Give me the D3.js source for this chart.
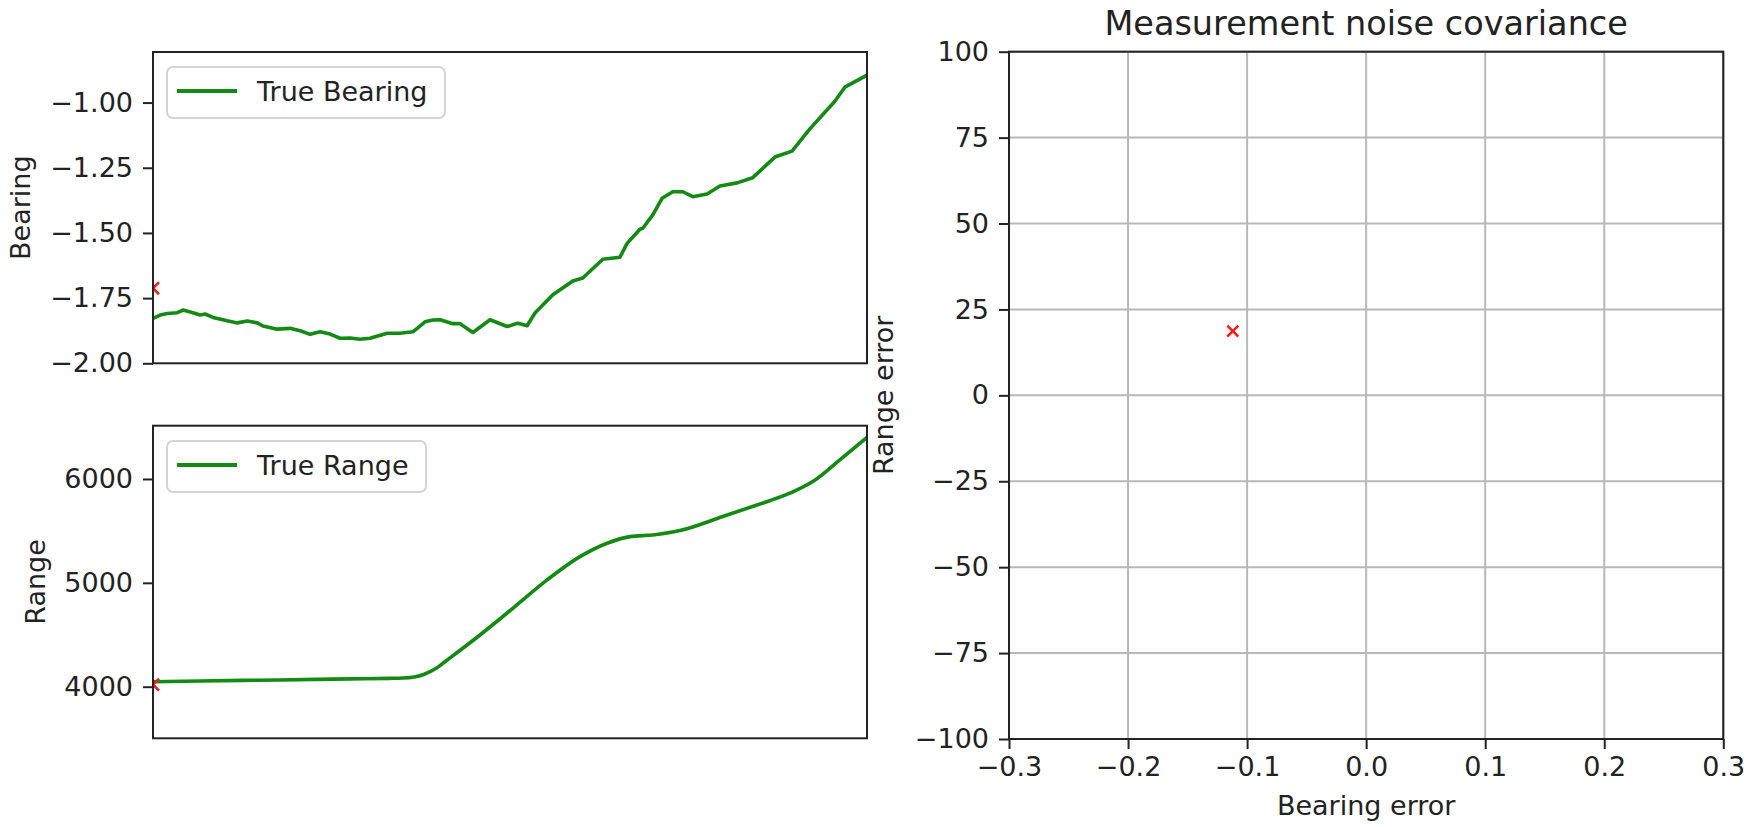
<!DOCTYPE html>
<html>
<head>
<meta charset="utf-8">
<script src="https://cdn.jsdelivr.net/npm/d3@7"></script>
<style>
  html, body { margin: 0; padding: 0; background: #fff; }
  svg { display: block; }
  text { font-family: "DejaVu Sans", sans-serif; fill: #222; }
</style>
</head>
<body>
<svg id="chart" width="1759" height="827"></svg>
<script>
// ---- data ----
const bearingTime = [0, 1.0, 2.0, 3.4, 4.2, 5.6, 6.6, 7.3, 8.4, 10.4, 11.8, 13.2, 14.6, 15.4, 17.4, 19.2, 20.6, 22.0, 23.4, 24.8, 26.2, 27.6, 29.0, 30.4, 32.8, 34.6, 36.4, 37.0, 38.1, 39.2, 40.2, 42.0, 43.0, 44.8, 47.2, 49.6, 51.1, 52.4, 53.5, 56.0, 58.8, 60.2, 63.0, 65.4, 66.4, 68.2, 68.6, 70.0, 71.3, 72.8, 74.2, 75.6, 77.6, 79.4, 81.8, 84.0, 87.1, 89.5, 92.0, 95.5, 96.9, 100];
const bearingValues = [-1.828, -1.815, -1.809, -1.806, -1.796, -1.806, -1.815, -1.811, -1.824, -1.837, -1.845, -1.838, -1.845, -1.857, -1.869, -1.866, -1.875, -1.889, -1.879, -1.888, -1.904, -1.903, -1.908, -1.904, -1.885, -1.885, -1.879, -1.866, -1.841, -1.834, -1.833, -1.848, -1.848, -1.882, -1.833, -1.859, -1.846, -1.856, -1.807, -1.737, -1.684, -1.673, -1.601, -1.593, -1.540, -1.486, -1.482, -1.431, -1.367, -1.342, -1.342, -1.361, -1.351, -1.320, -1.308, -1.288, -1.209, -1.186, -1.101, -0.995, -0.941, -0.895];
const rangeTime = [0, 6.6, 17.8, 27.6, 33.0, 35.0, 36.6, 38.0, 39.6, 41.2, 45.8, 50.4, 55.2, 59.8, 63.6, 66.8, 70.0, 73.8, 79.8, 84.6, 89.2, 92.4, 96.2, 100];
const rangeValues = [4048, 4055, 4065, 4075, 4080, 4083, 4093, 4120, 4175, 4257, 4498, 4755, 5028, 5252, 5381, 5445, 5461, 5503, 5638, 5750, 5863, 5975, 6184, 6400];
const measuredBearing = [{t: 0, v: -1.712}];
const measuredRange = [{t: 0, v: 4020}];
const noiseBearingError = [-0.112];
const noiseRangeError = [18.7];
const bearingTicks = [-2.00, -1.75, -1.50, -1.25, -1.00];
const rangeTicks = [4000, 5000, 6000];
const errXTicks = [-0.3, -0.2, -0.1, 0.0, 0.1, 0.2, 0.3];
const errYTicks = [-100, -75, -50, -25, 0, 25, 50, 75, 100];

// ---- drawing ----
const svg = d3.select("#chart");
const FS = 27;
const GREEN = "#138a13";
const minus = s => s.replace(/-/g, "\u2212");

function styleAxis(g) {
  g.select(".domain").remove();
  g.selectAll(".tick line").attr("stroke", "#222").attr("stroke-width", 2);
  g.selectAll(".tick text").style("font-size", FS + "px").attr("fill", "#222");
}

function frame(x0, y0, x1, y1) {
  svg.append("rect").attr("x", x0).attr("y", y0).attr("width", x1 - x0).attr("height", y1 - y0)
    .attr("fill", "none").attr("stroke", "#222").attr("stroke-width", 2);
}

function xMarker(g, cx, cy, s) {
  g.append("path")
    .attr("d", `M${cx - s},${cy - s}L${cx + s},${cy + s}M${cx - s},${cy + s}L${cx + s},${cy - s}`)
    .attr("stroke", "#ff1a1a").attr("stroke-width", 2.6).attr("fill", "none");
}

function legend(x, y, w, h, label) {
  svg.append("rect").attr("x", x).attr("y", y).attr("width", w).attr("height", h)
    .attr("rx", 6).attr("fill", "#fff").attr("fill-opacity", 0.8)
    .attr("stroke", "#d4d4d4").attr("stroke-width", 2);
  svg.append("line").attr("x1", x + 10).attr("x2", x + 70).attr("y1", y + 24).attr("y2", y + 24)
    .attr("stroke", GREEN).attr("stroke-width", 4);
  svg.append("text").attr("x", x + 90).attr("y", y + 34).style("font-size", FS + "px").text(label);
}

function linePanel(opts) {
  const { x0, x1, y0, y1, times, values, domain, ticks, fmt, label, labelX, meas, curve, clipId, leg } = opts;
  const xs = d3.scaleLinear().domain([0, 100]).range([x0, x1]);
  const ys = d3.scaleLinear().domain(domain).range([y1, y0]);
  svg.append("clipPath").attr("id", clipId).append("rect")
    .attr("x", x0).attr("y", y0).attr("width", x1 - x0).attr("height", y1 - y0);
  const g = svg.append("g").attr("clip-path", `url(#${clipId})`);
  const pts = times.map((t, i) => [t, values[i]]);
  g.append("path").datum(pts)
    .attr("d", d3.line().x(d => xs(d[0])).y(d => ys(d[1])).curve(curve))
    .attr("fill", "none").attr("stroke", GREEN).attr("stroke-width", 3.6)
    .attr("stroke-linejoin", "round").attr("stroke-linecap", "round");
  meas.forEach(m => xMarker(g, xs(m.t), ys(m.v), 6));
  const ax = svg.append("g").attr("transform", `translate(${x0},0)`)
    .call(d3.axisLeft(ys).tickValues(ticks).tickSize(10).tickPadding(10).tickFormat(d => minus(fmt(d))));
  styleAxis(ax);
  frame(x0, y0, x1, y1);
  svg.append("text").attr("transform", `translate(${labelX},${(y0 + y1) / 2}) rotate(-90)`)
    .attr("text-anchor", "middle").style("font-size", FS + "px").text(label);
  legend(leg.x, leg.y, leg.w, leg.h, leg.label);
}

linePanel({
  x0: 153, x1: 867, y0: 52, y1: 363.3,
  times: bearingTime, values: bearingValues,
  domain: [-2.0, -0.806], ticks: bearingTicks, fmt: d3.format(".2f"),
  label: "Bearing", labelX: 30, meas: measuredBearing, curve: d3.curveLinear, clipId: "c1",
  leg: { x: 167, y: 67, w: 278, h: 51, label: "True Bearing" }
});

linePanel({
  x0: 153, x1: 867, y0: 425.7, y1: 738.3,
  times: rangeTime, values: rangeValues,
  domain: [3503, 6513], ticks: rangeTicks, fmt: d3.format("d"),
  label: "Range", labelX: 45, meas: measuredRange, curve: d3.curveMonotoneX, clipId: "c2",
  leg: { x: 167, y: 441, w: 259, h: 51, label: "True Range" }
});

// ---- right scatter panel ----
(function () {
  const x0 = 1009, x1 = 1723.3, y0 = 51.7, y1 = 739;
  const xs = d3.scaleLinear().domain([-0.3, 0.3]).range([x0, x1]);
  const ys = d3.scaleLinear().domain([-100, 100]).range([y1, y0]);
  const grid = svg.append("g");
  errXTicks.forEach(t => grid.append("line").attr("x1", xs(t)).attr("x2", xs(t)).attr("y1", y0).attr("y2", y1)
    .attr("stroke", "#b8b8b8").attr("stroke-width", 2));
  errYTicks.forEach(t => grid.append("line").attr("x1", x0).attr("x2", x1).attr("y1", ys(t)).attr("y2", ys(t))
    .attr("stroke", "#b8b8b8").attr("stroke-width", 2));
  const g = svg.append("g");
  noiseBearingError.forEach((b, i) => xMarker(g, xs(b), ys(noiseRangeError[i]), 5.5));
  const ay = svg.append("g").attr("transform", `translate(${x0},0)`)
    .call(d3.axisLeft(ys).tickValues(errYTicks).tickSize(10).tickPadding(10).tickFormat(d => minus(String(d))));
  styleAxis(ay);
  const axb = svg.append("g").attr("transform", `translate(0,${y1})`)
    .call(d3.axisBottom(xs).tickValues(errXTicks).tickSize(10).tickPadding(8).tickFormat(d => minus(d3.format(".1f")(d))));
  styleAxis(axb);
  frame(x0, y0, x1, y1);
  svg.append("text").attr("x", (x0 + x1) / 2).attr("y", 815).attr("text-anchor", "middle")
    .style("font-size", FS + "px").text("Bearing error");
  svg.append("text").attr("transform", `translate(893,${(y0 + y1) / 2}) rotate(-90)`)
    .attr("text-anchor", "middle").style("font-size", FS + "px").text("Range error");
  svg.append("text").attr("x", (x0 + x1) / 2).attr("y", 35).attr("text-anchor", "middle")
    .style("font-size", "33.5px").text("Measurement noise covariance");
})();
</script>
</body>
</html>
